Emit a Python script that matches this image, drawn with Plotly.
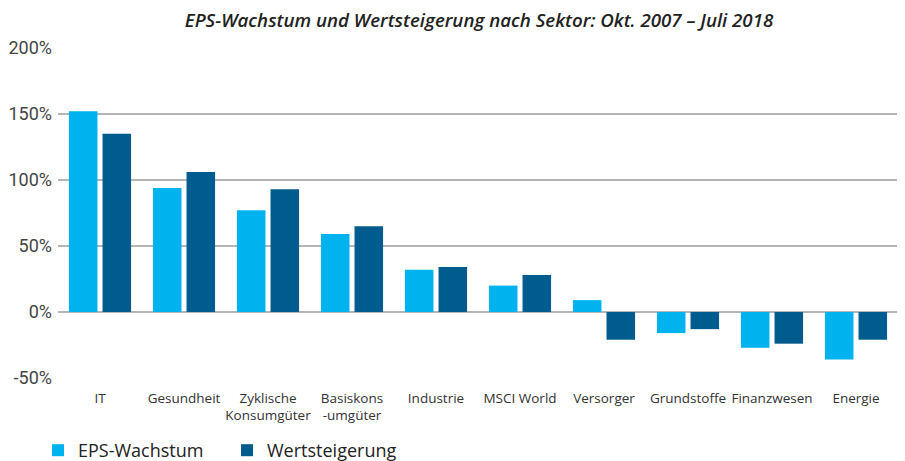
import plotly.graph_objects as go

categories = ["IT", "Gesundheit", "Zyklische<br>Konsumgüter", "Basiskons<br>-umgüter", "Industrie",
              "MSCI World", "Versorger", "Grundstoffe", "Finanzwesen", "Energie"]
eps_wachstum = [152, 94, 77, 59, 32, 20, 9, -16, -27, -36]
wertsteigerung = [135, 106, 93, 65, 34, 28, -21, -13, -24, -21]
tick_vals = [-50, 0, 50, 100, 150, 200]
tick_text = ["-50%", "0%", "50%", "100%", "150%", "200%"]

fig = go.Figure()
fig.add_trace(go.Bar(x=categories, y=eps_wachstum, name="EPS-Wachstum",
                     marker=dict(color="#00B3EE", line=dict(width=0))))
fig.add_trace(go.Bar(x=categories, y=wertsteigerung, name="Wertsteigerung",
                     marker=dict(color="#005B8E", line=dict(width=0))))

fig.update_layout(
    width=905, height=461,
    paper_bgcolor="white", plot_bgcolor="white",
    margin=dict(l=50, r=15, t=40, b=91),
    barmode="group", bargap=0.2, bargroupgap=0.15,
    title=dict(text="EPS-Wachstum und Wertsteigerung nach Sektor: Okt. 2007 – Juli 2018",
               xref="container", yref="container",
               x=471 / 905, xanchor="center", y=1 - 12 / 461, yanchor="middle",
               font=dict(family="Open Sans", size=18.7, color="#222", style="italic", weight=600)),
    showlegend=True,
    legend=dict(orientation="h", xref="container", yref="container", x=30 / 905, y=0.0,
                xanchor="left", yanchor="bottom",
                font=dict(family="Open Sans", size=18, color="#222"),
                entrywidth=144, entrywidthmode="pixels", itemwidth=30,
                traceorder="normal"),
    xaxis=dict(showgrid=False, showline=False, ticks="", automargin=False,
               ticklabelstandoff=10,
               tickfont=dict(family="Open Sans", size=13.5, color="#333")),
    yaxis=dict(range=[-50, 200], tickvals=tick_vals, ticktext=tick_text, automargin=False,
               showgrid=True, gridcolor="#B5B5B5", gridwidth=1.5,
               zeroline=True, zerolinecolor="#B5B5B5", zerolinewidth=1.5,
               showline=False, ticks="", ticklabelstandoff=5,
               tickfont=dict(family="Roboto", size=18, color="#444")),
)

fig.write_html("out.html")
